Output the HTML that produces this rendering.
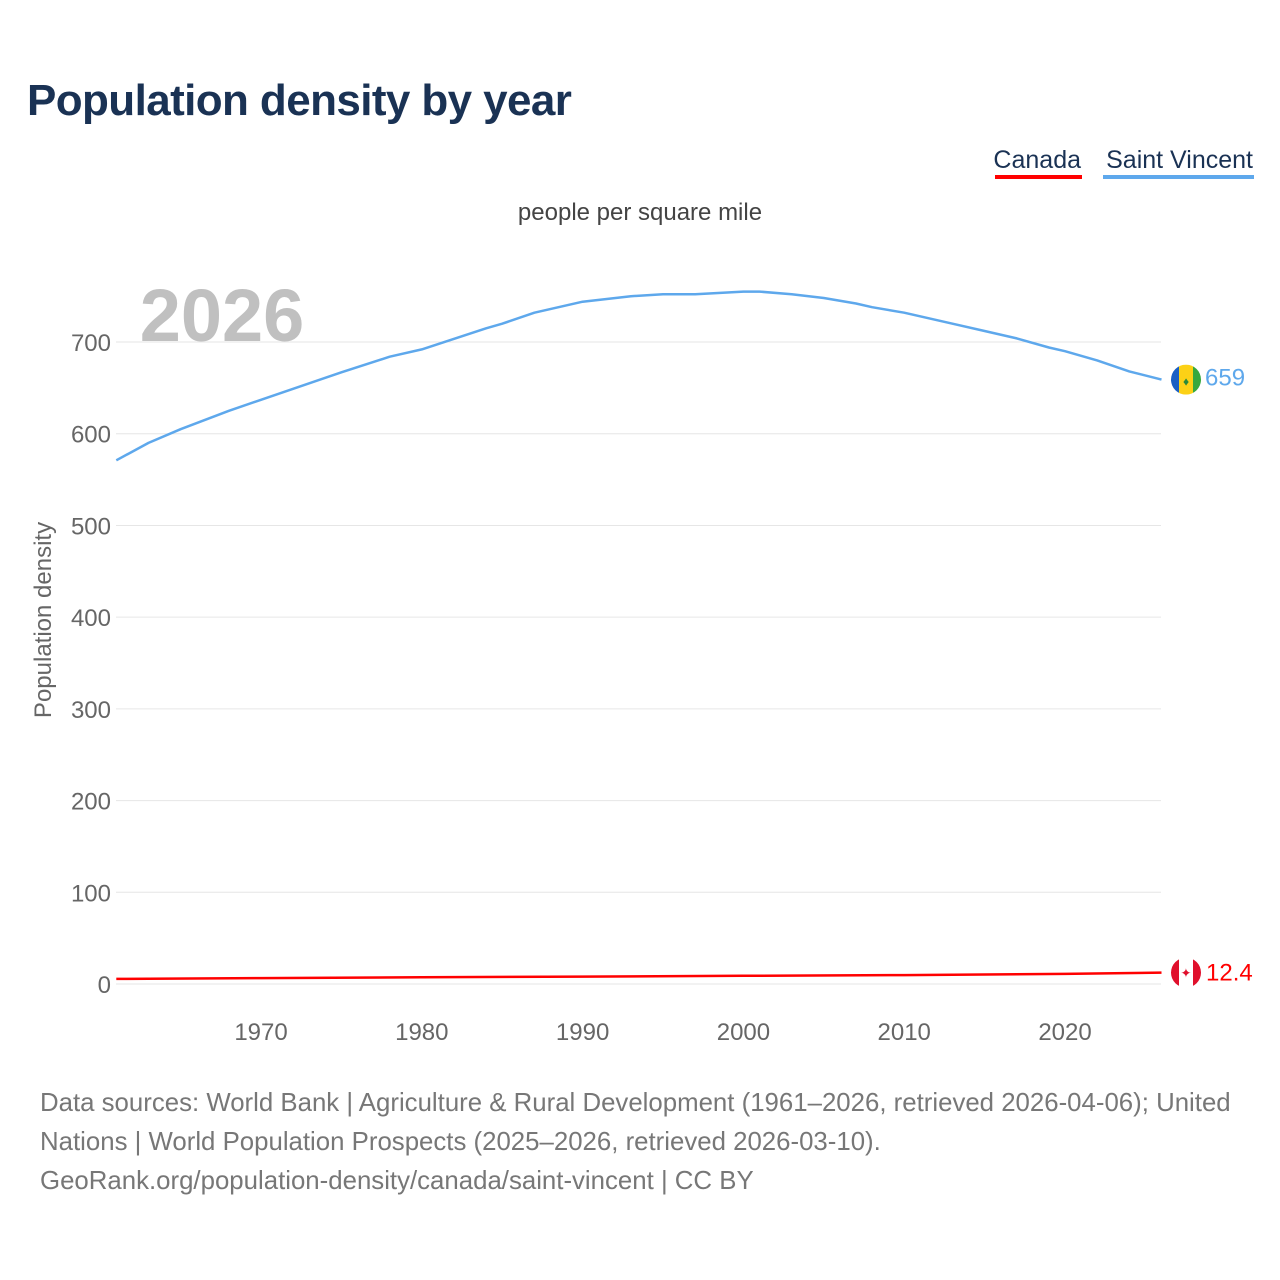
<!DOCTYPE html>
<html><head><meta charset="utf-8">
<style>
body{margin:0;background:#fff;font-family:"Liberation Sans",sans-serif;}
#wrap{position:relative;width:1280px;height:1280px;overflow:hidden;}
</style></head>
<body>
<div id="wrap">
<svg id="chart" width="1280" height="1280">
<text x="27" y="115" font-size="44" font-weight="bold" letter-spacing="-0.6" fill="#1a3254">Population density by year</text>
<g>
<text x="1081" y="168" text-anchor="end" font-size="25" fill="#1a3254">Canada</text>
<rect x="995" y="175" width="87" height="4" fill="#ff0000"/>
</g>
<g>
<text x="1253" y="168" text-anchor="end" font-size="25" fill="#1a3254">Saint Vincent</text>
<rect x="1103" y="175" width="151" height="4" fill="#5ea8ec"/>
</g>
<text x="640" y="220" text-anchor="middle" font-size="24" fill="#444">people per square mile</text>
<text x="222" y="341" text-anchor="middle" font-size="74" font-weight="bold" fill="#c0c0c0">2026</text>
<text transform="translate(51,620) rotate(-90)" text-anchor="middle" font-size="24" fill="#666">Population density</text>
<g id="grid"></g><g id="yticks"></g><g id="xticks"></g><g id="lines"></g>
<text x="40" y="1111" font-size="25.8" fill="#777">Data sources: World Bank | Agriculture &amp; Rural Development (1961–2026, retrieved 2026-04-06); United</text>
<text x="40" y="1150" font-size="25.8" fill="#777">Nations | World Population Prospects (2025–2026, retrieved 2026-03-10).</text>
<text x="40" y="1189" font-size="25.8" fill="#777">GeoRank.org/population-density/canada/saint-vincent | CC BY</text>
</svg>
</div>
<script>
const yTicks=[0,100,200,300,400,500,600,700];
const xTicks=[1970,1980,1990,2000,2010,2020];
const svcYears=[1961,1963,1965,1968,1970,1975,1978,1980,1984,1985,1987,1990,1993,1995,1997,2000,2001,2003,2005,2007,2008,2010,2013,2015,2017,2019,2020,2022,2024,2026];
const svcValues=[571,590,605,625,637,667,684,692,715,720,732,744,750,752,752,755,755,752,748,742,738,732,720,712,704,694,690,680,668,659];
const canYears=[1961,1970,1980,1990,2000,2010,2020,2026];
const canValues=[5.6,6.4,7.3,8.1,8.9,9.7,11.0,12.4];
const NS="http://www.w3.org/2000/svg";
const X=y=>116.3+(y-1961)*(1161.5-116.3)/65;
const Y=v=>984-v*0.9171;
function mk(tag,attrs,parent,txt){const e=document.createElementNS(NS,tag);for(const k in attrs)e.setAttribute(k,attrs[k]);if(txt!==undefined)e.textContent=txt;parent.appendChild(e);return e;}
const grid=document.getElementById('grid'),yt=document.getElementById('yticks'),xt=document.getElementById('xticks'),ln=document.getElementById('lines');
yTicks.forEach(v=>{
 const l=mk('line',{x1:116,x2:1161,y1:Y(v),y2:Y(v),stroke:'#e6e6e6','stroke-width':1},grid);
 
 
 const t=mk('text',{x:111,y:Y(v)+9,'text-anchor':'end','font-size':24,fill:'#666'},yt,String(v));
 
 
});
xTicks.forEach(v=>{
 const t=mk('text',{x:X(v),y:1040,'text-anchor':'middle','font-size':24,fill:'#666'},xt,String(v));
 
 
});
function path(xs,vs){return xs.map((y,i)=>(i?'L':'M')+X(y).toFixed(1)+','+Y(vs[i]).toFixed(1)).join(' ');}
const p1=mk('path',{d:path(svcYears,svcValues),fill:'none',stroke:'#5ea8ec','stroke-width':2.5,'stroke-linejoin':'round'},ln);


const p2=mk('path',{d:path(canYears,canValues),fill:'none',stroke:'#ff0000','stroke-width':2.5},ln);


const sx=1186, sy=Y(svcValues[svcValues.length-1]);
const g1=mk('g',{},ln);


mk('clipPath',{id:'c1'},g1);mk('circle',{cx:sx,cy:sy,r:15},g1.lastChild);
const f1=mk('g',{'clip-path':'url(#c1)'},g1);
mk('rect',{x:sx-15,y:sy-15,width:8,height:30,fill:'#1a5fc4'},f1);
mk('rect',{x:sx-7,y:sy-15,width:14,height:30,fill:'#fcd116'},f1);
mk('rect',{x:sx+7,y:sy-15,width:8,height:30,fill:'#36a83e'},f1);
mk('text',{x:sx,y:sy+6,'text-anchor':'middle','font-size':12,fill:'#2a8a3a'},f1,'♦');
const l1=mk('text',{x:1205,y:sy+6,'font-size':24,fill:'#5ea8ec'},ln,String(svcValues[svcValues.length-1]));


const cy=Y(canValues[canValues.length-1]);
const g2=mk('g',{},ln);


mk('clipPath',{id:'c2'},g2);mk('circle',{cx:sx,cy:cy,r:15},g2.lastChild);
const f2=mk('g',{'clip-path':'url(#c2)'},g2);
mk('rect',{x:sx-15,y:cy-15,width:30,height:30,fill:'#fff'},f2);
mk('rect',{x:sx-15,y:cy-15,width:8,height:30,fill:'#e0102c'},f2);
mk('rect',{x:sx+7,y:cy-15,width:8,height:30,fill:'#e0102c'},f2);
mk('text',{x:sx,y:cy+5,'text-anchor':'middle','font-size':13,fill:'#e0102c'},f2,'✦');
const l2=mk('text',{x:1206,y:cy+8,'font-size':24,fill:'#ff0000'},ln,String(canValues[canValues.length-1]));


</script>
</body></html>
